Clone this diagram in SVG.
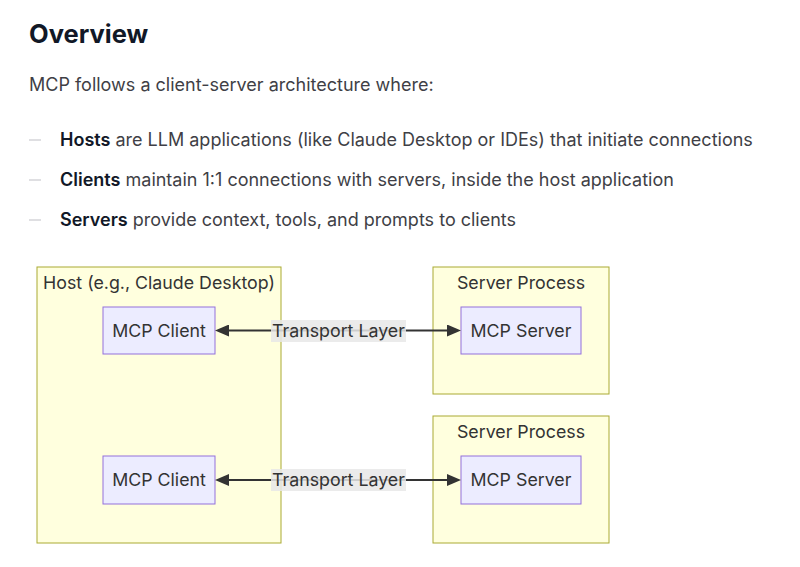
<svg xmlns="http://www.w3.org/2000/svg" width="800" height="567" viewBox="0 0 800 567">
<style>
  .body{font-family:Inter,"Noto Sans","Liberation Sans",sans-serif;font-size:18px;fill:#3f3f46}
  .b{font-weight:600;fill:#111827}
  .dash{stroke:#d4d4d8;stroke-width:1.5}
  .grp rect{fill:#ffffde;stroke:#aaaa33;stroke-width:1}
  .node rect{fill:#ececff;stroke:#9370db;stroke-width:1}
  .lbl{font-family:Inter,"Noto Sans","Liberation Sans",sans-serif;font-size:17.8px;fill:#333333}
  .edge{stroke:#333333;stroke-width:2;fill:none}
  .elbl rect{fill:#e8e8e8;opacity:0.85}
</style>
<defs>
  <marker id="arr" viewBox="0 0 14 12" refX="4" refY="6" markerWidth="14" markerHeight="12" markerUnits="userSpaceOnUse" orient="auto-start-reverse">
    <path d="M0,0 L14,6 L0,12 z" fill="#333333"/>
  </marker>
</defs>
<rect width="800" height="567" fill="#ffffff"/>
<g id="heading">
  <text x="29" y="43" font-family="Inter,'Noto Sans','Liberation Sans',sans-serif" font-size="25.5" font-weight="700" fill="#111827">Overview</text>
  <text class="body" x="29" y="91">MCP follows a client-server architecture where:</text>
  <line class="dash" x1="29" y1="140" x2="41" y2="140"/>
  <line class="dash" x1="29" y1="180" x2="41" y2="180"/>
  <line class="dash" x1="29" y1="220" x2="41" y2="220"/>
  <text class="body" x="60" y="146"><tspan class="b">Hosts</tspan> are LLM applications (like Claude Desktop or IDEs) that initiate connections</text>
  <text class="body" x="60" y="186"><tspan class="b">Clients</tspan> maintain 1:1 connections with servers, inside the host application</text>
  <text class="body" x="60" y="226"><tspan class="b">Servers</tspan> provide context, tools, and prompts to clients</text>
</g>
<g id="host" class="grp">
  <rect x="37" y="267" width="244" height="276"/>
  <text class="lbl" x="159" y="289" text-anchor="middle">Host (e.g., Claude Desktop)</text>
</g>
<g id="server-process-1" class="grp">
  <rect x="433" y="267" width="176" height="127"/>
  <text class="lbl" x="521" y="289" text-anchor="middle">Server Process</text>
</g>
<g id="server-process-2" class="grp">
  <rect x="433" y="416" width="176" height="127"/>
  <text class="lbl" x="521" y="438" text-anchor="middle">Server Process</text>
</g>
<g id="client-1" class="node">
  <rect x="103" y="307" width="112" height="47"/>
  <text class="lbl" x="159" y="337" text-anchor="middle">MCP Client</text>
</g>
<g id="client-2" class="node">
  <rect x="103" y="456" width="112" height="48"/>
  <text class="lbl" x="159" y="486" text-anchor="middle">MCP Client</text>
</g>
<g id="server-1" class="node">
  <rect x="461" y="307" width="120" height="47"/>
  <text class="lbl" x="521" y="337" text-anchor="middle">MCP Server</text>
</g>
<g id="server-2" class="node">
  <rect x="461" y="456" width="120" height="48"/>
  <text class="lbl" x="521" y="486" text-anchor="middle">MCP Server</text>
</g>
<g id="connectors">
  <line class="edge" x1="225" y1="330.5" x2="451" y2="330.5" marker-start="url(#arr)" marker-end="url(#arr)"/>
  <line class="edge" x1="225" y1="480" x2="451" y2="480" marker-start="url(#arr)" marker-end="url(#arr)"/>
  <g class="elbl">
    <rect x="271" y="320" width="135" height="22"/>
    <text class="lbl" x="338.5" y="337" text-anchor="middle">Transport Layer</text>
  </g>
  <g class="elbl">
    <rect x="271" y="469" width="135" height="22"/>
    <text class="lbl" x="338.5" y="486" text-anchor="middle">Transport Layer</text>
  </g>
</g>
</svg>
